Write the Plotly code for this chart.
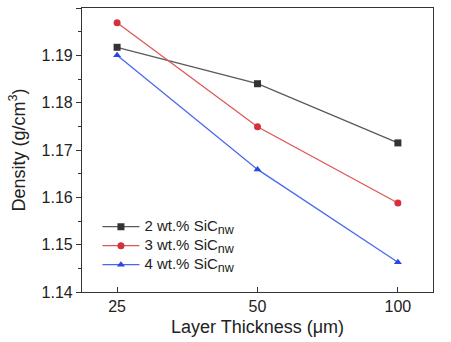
import plotly.graph_objects as go

# Layer thickness categories (µm) and measured densities (g/cm^3)
thickness = ["25", "50", "100"]
density_2wt = [1.1917, 1.1840, 1.1715]
density_3wt = [1.1969, 1.1749, 1.1588]
density_4wt = [1.1900, 1.1659, 1.1463]
labels = ["2 wt.% SiC", "3 wt.% SiC", "4 wt.% SiC"]


def legend_label(text):
    # larger text in a compact legend row, with the "nw" subscript
    return ('<span style="font-size:15px">' + text + '</span>'
            '<sub><span style="font-size:12.5px">nw</span></sub>')


styles = [
    ("#5a5a5a", "#333333", "square"),
    ("#e05656", "#d8303a", "circle"),
    ("#4a68ee", "#2a45e0", "triangle-up"),
]

fig = go.Figure()
for text, vals, (lcol, mcol, sym) in zip(labels, [density_2wt, density_3wt, density_4wt], styles):
    fig.add_trace(go.Scatter(
        x=thickness, y=vals, name=legend_label(text), mode="lines+markers",
        line=dict(color=lcol, width=1.3),
        marker=dict(symbol=sym, size=7, color=mcol),
    ))

font_family = "Liberation Sans, Arial, sans-serif"
fig.update_layout(
    width=451, height=342,
    margin=dict(l=82, r=18, t=8, b=50),
    paper_bgcolor="white", plot_bgcolor="white",
    font=dict(family=font_family, size=15, color="#222222"),
    showlegend=True,
    legend=dict(
        x=0.044, y=0.045, xanchor="left", yanchor="bottom",
        bgcolor="rgba(0,0,0,0)", borderwidth=0,
        font=dict(size=12), tracegroupgap=0, itemwidth=37,
    ),
)
fig.update_xaxes(
    type="category", range=[-0.25, 2.25],
    showline=True, linecolor="#333333", linewidth=1.2, mirror=True,
    ticks="inside", ticklen=5, tickcolor="#333333",
    showgrid=False, zeroline=False,
    title=dict(text="Layer Thickness (μm)", font=dict(size=18), standoff=6),
    tickfont=dict(size=16),
)
fig.update_yaxes(
    range=[1.14, 1.20], dtick=0.01, tickformat=".2f",
    showline=True, linecolor="#333333", linewidth=1.2, mirror=True,
    ticks="outside", ticklen=5, tickcolor="#333333",
    minor=dict(dtick=0.005, ticks="outside", ticklen=3, tickcolor="#333333"),
    showgrid=False, zeroline=False,
    title=dict(text="Density (g/cm<sup>3</sup>)", font=dict(size=18), standoff=11),
    tickfont=dict(size=16),
)

fig.write_html("out.html")
